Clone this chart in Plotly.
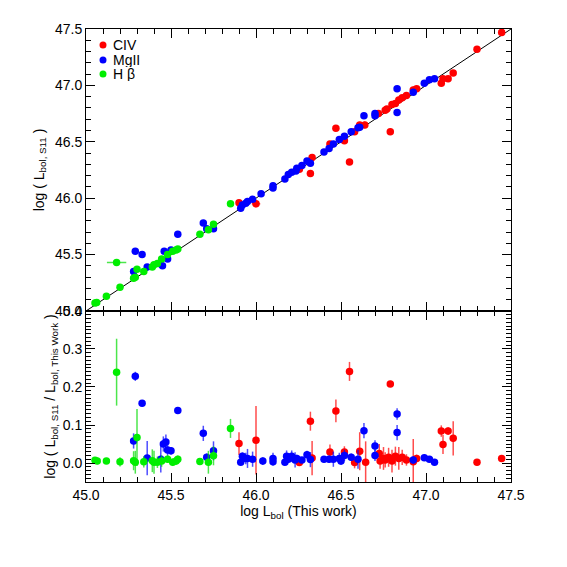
import plotly.graph_objects as go

# ---------------- Top panel data (log L_bol this work vs S11) ----------------
civ_x = [45.90, 46.00, 46.255, 46.32, 46.33, 46.435, 46.47, 46.52, 46.55, 46.58, 46.61, 46.64,
         46.72, 46.76, 46.77, 46.79, 46.80, 46.82, 46.84, 46.86, 46.885, 46.925, 46.945,
         47.09, 47.10, 47.13, 47.16, 47.30, 47.445]
civ_y = [45.96, 45.95, 46.256, 46.22, 46.36, 46.48, 46.62, 46.51, 46.32, 46.59, 46.65, 46.65,
         46.75, 46.78, 46.79, 46.59, 46.83, 46.84, 46.87, 46.89, 46.91, 46.96, 46.97,
         47.02, 47.06, 47.06, 47.11, 47.32, 47.47]
civ_xerr = [0, 0.025, 0, 0, 0, 0, 0, 0, 0, 0, 0, 0,
            0, 0, 0, 0, 0, 0, 0, 0, 0, 0, 0,
            0, 0, 0, 0, 0, 0]
civ_yerr = [0, 0.03, 0, 0, 0.02, 0, 0, 0, 0, 0, 0.02, 0.03,
            0, 0, 0, 0, 0, 0, 0, 0, 0, 0.03, 0,
            0, 0, 0, 0.015, 0, 0]

mg_x = [45.28, 45.29, 45.33, 45.36, 45.43, 45.45, 45.46, 45.48, 45.50, 45.54, 45.69, 45.71, 45.75,
        45.91, 45.92, 45.94, 45.95, 45.98, 46.03, 46.10, 46.10, 46.17, 46.19, 46.21, 46.235,
        46.24, 46.27, 46.30, 46.32, 46.40, 46.43, 46.455, 46.49, 46.52, 46.56, 46.60, 46.61,
        46.635, 46.70, 46.70, 46.83, 46.83, 46.925, 46.99, 47.02, 47.05]
mg_y = [45.35, 45.53, 45.50, 45.39, 45.42, 45.40, 45.53, 45.46, 45.54, 45.68, 45.78, 45.73, 45.73,
        45.91, 45.94, 45.955, 45.97, 45.99, 46.04, 46.09, 46.11, 46.17, 46.21, 46.23, 46.24,
        46.265, 46.29, 46.33, 46.31, 46.41, 46.44, 46.48, 46.52, 46.55, 46.59, 46.625, 46.63,
        46.73, 46.75, 46.73, 46.97, 46.76, 46.94, 47.02, 47.05, 47.06]

hb_x = [45.053, 45.063, 45.12, 45.20, 45.18, 45.28, 45.29, 45.30, 45.34, 45.39, 45.40, 45.42,
        45.445, 45.48, 45.51, 45.53, 45.54, 45.67, 45.72, 45.75, 45.85]
hb_y = [45.07, 45.075, 45.13, 45.21, 45.43, 45.29, 45.30, 45.37, 45.35, 45.39, 45.41, 45.42,
        45.46, 45.50, 45.53, 45.54, 45.55, 45.68, 45.72, 45.77, 45.95]
hb_xerr = [0, 0, 0, 0, 0.057, 0, 0, 0, 0, 0, 0, 0, 0, 0, 0, 0, 0, 0, 0, 0, 0]
hb_yerr = [0, 0, 0, 0, 0.01, 0, 0, 0.02, 0, 0, 0, 0, 0, 0, 0, 0, 0, 0, 0, 0, 0]

one_to_one = [45.0, 47.5]

# ---------------- Bottom panel data (log ratio) ----------------
civ_rx = [45.90, 46.00, 46.255, 46.32, 46.33, 46.435, 46.47, 46.52, 46.55, 46.58, 46.61, 46.645,
          46.725, 46.73, 46.75, 46.76, 46.78, 46.79, 46.80, 46.82, 46.84, 46.86, 46.885,
          46.925, 46.945, 47.09, 47.10, 47.13, 47.16, 47.30, 47.445]
civ_r = [0.051, 0.060, 0.001, 0.110, 0.013, 0.029, 0.137, 0.029, 0.241, 0.001, 0.031, 0.002,
         0.025, 0.005, 0.012, 0.008, 0.015, 0.208, 0.005, 0.018, 0.012, 0.015, 0.008,
         0.003, 0.012, 0.084, 0.049, 0.084, 0.065, 0.002, 0.012]
civ_re = [0.03, 0.09, 0.008, 0.025, 0.045, 0.02, 0.03, 0.015, 0.025, 0.015, 0.05, 0.055,
          0.025, 0.02, 0.03, 0.02, 0.025, 0.008, 0.03, 0.025, 0.03, 0.02, 0.015,
          0.06, 0.01, 0.015, 0.025, 0.01, 0.045, 0.008, 0.008]

mg_rx = [45.29, 45.33, 45.28, 45.36, 45.44, 45.455, 45.47, 45.48, 45.50, 45.54, 45.69, 45.71, 45.75,
         45.91, 45.92, 45.94, 45.95, 45.98, 46.04, 46.10, 46.10, 46.17, 46.18, 46.19, 46.21,
         46.23, 46.24, 46.27, 46.30, 46.32, 46.40, 46.43, 46.455, 46.49, 46.50, 46.52, 46.56,
         46.60, 46.635, 46.70, 46.70, 46.83, 46.83, 46.925, 46.99, 47.02, 47.05]
mg_r = [0.228, 0.157, 0.058, 0.013, 0.010, 0.050, 0.055, 0.034, 0.032, 0.138, 0.078, 0.015, 0.032,
        0.002, 0.018, 0.012, 0.012, 0.010, 0.005, 0.012, 0.003, 0.002, 0.018, 0.010, 0.018,
        0.008, 0.012, 0.008, 0.022, 0.009, 0.010, 0.010, 0.010, 0.012, 0.005, 0.020, 0.015,
        0.010, 0.085, 0.045, 0.020, 0.129, 0.080, 0.008, 0.014, 0.010, 0.002]
mg_re = [0.012, 0.008, 0.02, 0.045, 0.035, 0.02, 0.02, 0.015, 0.01, 0.008, 0.02, 0.01, 0.025,
         0.008, 0.01, 0.015, 0.025, 0.02, 0.01, 0.015, 0.01, 0.008, 0.015, 0.01, 0.015,
         0.02, 0.01, 0.008, 0.01, 0.02, 0.008, 0.01, 0.02, 0.015, 0.01, 0.015, 0.01,
         0.025, 0.02, 0.015, 0.015, 0.015, 0.02, 0.01, 0.008, 0.008, 0.008]

hb_rx = [45.053, 45.066, 45.12, 45.20, 45.18, 45.28, 45.29, 45.30, 45.34, 45.39, 45.40, 45.42,
         45.445, 45.48, 45.51, 45.53, 45.54, 45.67, 45.72, 45.75, 45.85]
hb_r = [0.007, 0.005, 0.005, 0.003, 0.239, 0.006, 0.002, 0.067, 0.003, 0.006, 0.002, 0.002,
        0.005, 0.010, 0.002, 0.005, 0.010, 0.004, 0.002, 0.019, 0.091]
hb_re = [0.008, 0.008, 0.006, 0.012, 0.088, 0.025, 0.03, 0.075, 0.015, 0.03, 0.03, 0.015,
         0.015, 0.01, 0.01, 0.01, 0.01, 0.008, 0.03, 0.025, 0.025]

legend_names = ["CIV", "MgII", "H β"]
RED, BLUE, GREEN = "#ff0000", "#0000ff", "#00ee00"
RED_E, BLUE_E, GREEN_E = "rgba(255,0,0,0.7)", "rgba(0,0,255,0.7)", "rgba(0,220,0,0.7)"

fig = go.Figure()
MS = 7.5

# 1:1 line
fig.add_trace(go.Scatter(x=one_to_one, y=one_to_one, mode="lines",
                         line=dict(color="black", width=1), xaxis="x2", yaxis="y2",
                         showlegend=False, hoverinfo="skip"))

# top panel
fig.add_trace(go.Scatter(x=civ_x, y=civ_y, mode="markers", xaxis="x2", yaxis="y2",
                         marker=dict(color=RED, size=MS),
                         error_x=dict(type="data", array=civ_xerr, color=RED_E, thickness=1.5, width=0),
                         error_y=dict(type="data", array=civ_yerr, color=RED_E, thickness=1.5, width=0),
                         showlegend=False))
fig.add_trace(go.Scatter(x=mg_x, y=mg_y, mode="markers", xaxis="x2", yaxis="y2",
                         marker=dict(color=BLUE, size=MS), showlegend=False))
fig.add_trace(go.Scatter(x=hb_x, y=hb_y, mode="markers", xaxis="x2", yaxis="y2",
                         marker=dict(color=GREEN, size=MS),
                         error_x=dict(type="data", array=hb_xerr, color=GREEN_E, thickness=1.5, width=0),
                         error_y=dict(type="data", array=hb_yerr, color=GREEN_E, thickness=1.5, width=0),
                         showlegend=False))

# bottom panel
fig.add_trace(go.Scatter(x=civ_rx, y=civ_r, mode="markers", xaxis="x", yaxis="y",
                         marker=dict(color=RED, size=MS),
                         error_y=dict(type="data", array=civ_re, color=RED_E, thickness=1.5, width=0),
                         showlegend=False))
fig.add_trace(go.Scatter(x=mg_rx, y=mg_r, mode="markers", xaxis="x", yaxis="y",
                         marker=dict(color=BLUE, size=MS),
                         error_y=dict(type="data", array=mg_re, color=BLUE_E, thickness=1.5, width=0),
                         showlegend=False))
fig.add_trace(go.Scatter(x=hb_rx, y=hb_r, mode="markers", xaxis="x", yaxis="y",
                         marker=dict(color=GREEN, size=MS),
                         error_y=dict(type="data", array=hb_re, color=GREEN_E, thickness=1.5, width=0),
                         showlegend=False))

FONT = dict(family="Liberation Sans, Arial, sans-serif", size=14, color="black")

common_x = dict(range=[45.0, 47.5], tickmode="array",
                tickvals=[45.0, 45.5, 46.0, 46.5, 47.0, 47.5],
                ticktext=["45.0", "45.5", "46.0", "46.5", "47.0", "47.5"],
                ticks="inside", ticklen=9, tickwidth=1, tickcolor="black",
                minor=dict(dtick=0.1, ticks="inside", ticklen=5, tickcolor="black", tickwidth=1),
                showline=True, linecolor="black", linewidth=1, mirror="allticks",
                showgrid=False, zeroline=False, tickfont=FONT, automargin=False)

# the page body adds an 8px offset, so the figure is drawn 8px smaller
fig.update_layout(
    width=559, height=559,
    margin=dict(l=78, r=56, t=21, b=85),
    paper_bgcolor="white", plot_bgcolor="white",
    font=FONT,
    xaxis=dict(**common_x, anchor="y",
               title=dict(text="log L<sub>bol</sub> (This work)", font=FONT, standoff=2)),
    xaxis2=dict(**common_x, anchor="y2", matches="x", showticklabels=False),
    yaxis=dict(domain=[0, 0.3775], range=[-0.05, 0.4], anchor="x",
               tickmode="array", tickvals=[0.0, 0.1, 0.2, 0.3, 0.4],
               ticktext=["0.0", "0.1", "0.2", "0.3", "0.4"],
               ticks="inside", ticklen=9, tickwidth=1, tickcolor="black",
               minor=dict(dtick=0.01, ticks="inside", ticklen=5, tickcolor="black", tickwidth=1),
               showline=True, linecolor="black", linewidth=1, mirror="allticks",
               showgrid=False, zeroline=False, tickfont=FONT, automargin=False,
               title=dict(text="log ( L<sub>bol, S11</sub> / L<sub>bol, This Work</sub> )",
                          font=FONT, standoff=3)),
    yaxis2=dict(domain=[0.3775, 1], range=[45.0, 47.5], anchor="x2",
                tickmode="array", tickvals=[45.0, 45.5, 46.0, 46.5, 47.0, 47.5],
                ticktext=["45.0", "45.5", "46.0", "46.5", "47.0", "47.5"],
                ticks="inside", ticklen=9, tickwidth=1, tickcolor="black",
                minor=dict(dtick=0.1, ticks="inside", ticklen=5, tickcolor="black", tickwidth=1),
                showline=True, linecolor="black", linewidth=1, mirror="allticks",
                showgrid=False, zeroline=False, tickfont=FONT, automargin=False,
                title=dict(text="log ( L<sub>bol, S11</sub> )", font=FONT, standoff=7)),
    showlegend=False,
)

# manual legend (paper coordinates)
W, H = 425.0, 453.0
leg_colors = [RED, BLUE, GREEN]
leg_rows_px = [45, 60, 74]
for name, col, py in zip(legend_names, leg_colors, leg_rows_px):
    cx = (103 - 86) / W
    cy = (482 - py) / H
    r = 3.5
    fig.add_shape(type="circle", xref="paper", yref="paper",
                  x0=cx - r / W, x1=cx + r / W, y0=cy - r / H, y1=cy + r / H,
                  fillcolor=col, line=dict(color=col, width=0))
    fig.add_annotation(x=(111 - 86) / W, y=cy, xref="paper", yref="paper",
                       text=name, showarrow=False, xanchor="left", yanchor="middle",
                       font=FONT, height=14)

fig.write_html("out.html")
